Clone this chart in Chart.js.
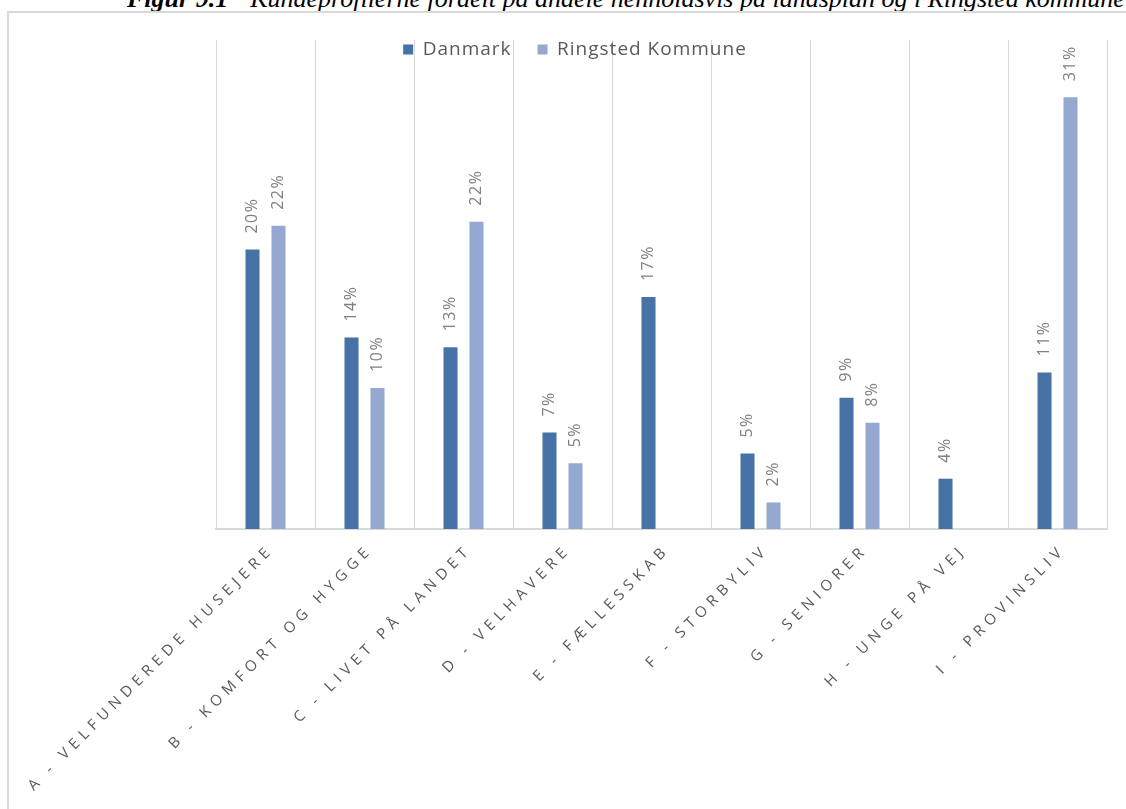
<!DOCTYPE html>
<html>
<head>
<meta charset="utf-8">
<script src="https://cdn.jsdelivr.net/npm/chart.js@4/dist/chart.umd.min.js"></script>
<style>
  html, body { margin: 0; padding: 0; width: 1126px; height: 809px; overflow: hidden; background: #fff; }
  #title {
    position: absolute; left: 127px; top: -16px; white-space: nowrap;
    font-family: "Liberation Serif", "Times New Roman", serif; font-style: italic; font-size: 26px; color: #000;
  }
  #title b { margin-right: 22px; }
  #frame {
    position: absolute; left: 7px; top: 11px; width: 1200px; height: 900px;
    border-top: 2px solid #d9d9d9; border-left: 2px solid #d9d9d9;
  }
  #chart { position: absolute; left: 9px; top: 13px; }
</style>
</head>
<body>
<div id="title"><b>Figur 9.1</b>Kundeprofilerne fordelt på andele henholdsvis på landsplan og i Ringsted kommune</div>
<div id="frame"></div>
<canvas id="chart" width="1140" height="796"></canvas>

<script>
// Kundeprofiler (andel i %)
const categories = [
    'A - VELFUNDEREDE HUSEJERE',
    'B - KOMFORT OG HYGGE',
    'C - LIVET PÅ LANDET',
    'D - VELHAVERE',
    'E - FÆLLESSKAB',
    'F - STORBYLIV',
    'G - SENIORER',
    'H - UNGE PÅ VEJ',
    'I - PROVINSLIV'
];
const danmark = [20.0, 13.7, 13.0, 6.9, 16.6, 5.4, 9.4, 3.6, 11.2];
const ringsted = [21.7, 10.1, 22.0, 4.7, 0, 1.9, 7.6, 0, 30.9];
const seriesNames = ['Danmark', 'Ringsted Kommune'];
const yMax = 35;

// Colors
const darkBlue = '#4672a6';
const lightBlue = '#95a9d0';
const gridGray = '#d9d9d9';
const textGray = '#595959';
const labelGray = '#808080';

const legendPadding = 26;

// value labels above the bars + letter spacing for the category labels
const barLabels = {
    id: 'barLabels',
    beforeUpdate(chart) {
        chart.ctx.letterSpacing = '1px';
    },
    afterLayout(chart) {
        // legend sits on top of the plot area, centred on the whole frame
        const lg = chart.legend;
        lg.left = 0;
        lg.right = chart.width - 8;
        lg.top = chart.chartArea.top - legendPadding;
        lg.bottom = chart.chartArea.top + 60;
    },
    afterDatasetsDraw(chart) {
        const ctx = chart.ctx;
        ctx.save();
        ctx.font = '16px "Open Sans"';
        ctx.letterSpacing = '1.5px';
        ctx.fillStyle = labelGray;
        ctx.textAlign = 'left';
        ctx.textBaseline = 'middle';
        chart.data.datasets.forEach((ds, di) => {
            chart.getDatasetMeta(di).data.forEach((bar, i) => {
                const v = ds.data[i];
                if (!v) return;
                ctx.save();
                ctx.translate(bar.x, bar.y - 16);
                ctx.rotate(-Math.PI / 2);
                ctx.fillText(Math.round(v) + '%', 0, 0);
                ctx.restore();
            });
        });
        ctx.restore();
        // x tick labels are drawn after this (ticks z = 1)
        ctx.letterSpacing = '5.4px';
    },
    afterDraw(chart) {
        chart.ctx.letterSpacing = '1px';
    }
};

new Chart(document.getElementById('chart'), {
    type: 'bar',
    data: {
        labels: categories,
        datasets: [{
            label: seriesNames[0],
            data: danmark,
            backgroundColor: darkBlue,
            categoryPercentage: 0.525,
            barPercentage: 0.54
        }, {
            label: seriesNames[1],
            data: ringsted,
            backgroundColor: lightBlue,
            categoryPercentage: 0.525,
            barPercentage: 0.54
        }]
    },
    options: {
        responsive: false,
        animation: false,
        layout: {
            padding: { left: 207, right: 42, top: 26, bottom: 0 }
        },
        scales: {
            x: {
                grid: {
                    color: gridGray,
                    lineWidth: 1,
                    drawTicks: false,
                    offset: true
                },
                border: { color: gridGray, width: 2 },
                ticks: {
                    z: 1,
                    autoSkip: false,
                    minRotation: 45,
                    maxRotation: 45,
                    padding: 12,
                    labelOffset: 6,
                    color: textGray,
                    font: { family: 'Open Sans', size: 15 }
                },
                afterFit(scale) {
                    scale.height = 280;
                }
            },
            y: {
                display: false,
                min: 0,
                max: yMax
            }
        },
        plugins: {
            legend: {
                position: 'top',
                align: 'center',
                maxHeight: 1,
                labels: {
                    boxWidth: 10,
                    boxHeight: 10,
                    padding: legendPadding,
                    color: textGray,
                    font: { family: 'Open Sans', size: 19 }
                }
            },
            tooltip: { enabled: false }
        }
    },
    plugins: [barLabels]
});
</script>
</body>
</html>
